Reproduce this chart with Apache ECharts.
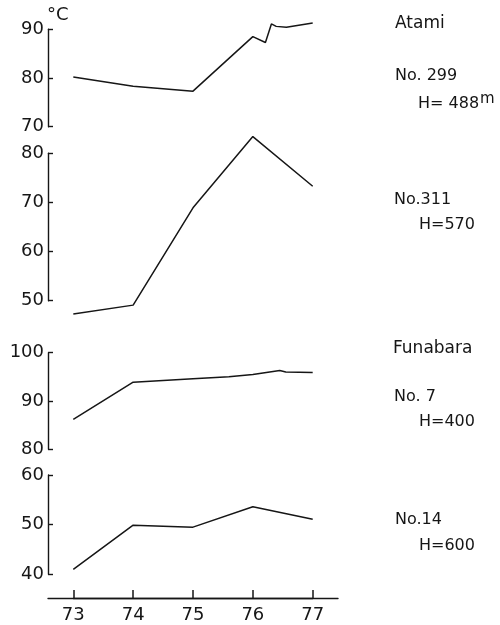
<!DOCTYPE html>
<html>
<head>
<meta charset="utf-8">
<script src="https://cdn.jsdelivr.net/npm/echarts@6/dist/echarts.min.js"></script>
<style>
  html, body { margin: 0; padding: 0; background: #fff; }
  #chart { width: 500px; height: 625px; }
</style>
</head>
<body>
<div id="chart"></div>
<script>
// Year range with ticks (73 ... 77)
const firstYear = 73;
const lastYear = 77;

// Atami No. 299 (H = 488 m)
const no299Years = [73, 74, 75, 76, 76.21, 76.31, 76.39, 76.56, 77];
const no299Temp = [80.2, 78.3, 77.3, 88.5, 87.3, 91.1, 90.6, 90.4, 91.3];

// Atami No. 311 (H = 570 m)
const no311Years = [73, 74, 75, 76, 77];
const no311Temp = [47.3, 49.1, 68.9, 83.4, 73.3];

// Funabara No. 7 (H = 400 m)
const no7Years = [73, 74, 75, 75.6, 76, 76.45, 76.55, 77];
const no7Temp = [86.2, 93.9, 94.6, 95.0, 95.5, 96.3, 96.0, 95.9];

// Funabara No. 14 (H = 600 m)
const no14Years = [73, 74, 75, 76, 77];
const no14Temp = [41.0, 49.9, 49.5, 53.6, 51.1];

// y ranges of the panels, top to bottom
const yRanges = [[70, 90], [50, 80], [80, 100], [40, 60]];

const ink = '#161616';
const font = 'DejaVu Sans';

const pairs = (xs, ys) => xs.map((x, i) => [x, ys[i]]);

// The plotting area runs a little past the first and last year
const pxPerYear = 59.85;
const axisLeft = 48, axisWidth = 290;
const yearLeft = 73.3;
const xMin = firstYear - (yearLeft - axisLeft) / pxPerYear;
const xMax = xMin + axisWidth / pxPerYear;
const yearAxisY = 598;

const panelBoxes = [
  { top: 29.3, height: 97.4 },
  { top: 153.3, height: 147.4 },
  { top: 352.7, height: 96.6 },
  { top: 475, height: 99.3 }
];

const grids = panelBoxes.map(b => ({ left: axisLeft, width: axisWidth, top: b.top, height: b.height }));
// Thin strip grids for the shared year axis: the full-length base line, and the 73-77 ticks
grids.push({ left: axisLeft, width: axisWidth, top: yearAxisY - 16, height: 16 });
grids.push({ left: yearLeft, width: (lastYear - firstYear) * pxPerYear, top: yearAxisY - 16, height: 16 });

const xAxes = panelBoxes.map((b, i) => ({
  type: 'value', gridIndex: i, min: xMin, max: xMax, show: false
}));
xAxes.push({
  type: 'value',
  gridIndex: 4,
  min: xMin,
  max: xMax,
  splitLine: { show: false },
  axisLine: { show: true, onZero: false, lineStyle: { color: ink, width: 1.4 } },
  axisTick: { show: false },
  axisLabel: { show: false }
});
xAxes.push({
  type: 'value',
  gridIndex: 5,
  min: firstYear,
  max: lastYear,
  interval: 1,
  splitLine: { show: false },
  axisLine: { show: true, onZero: false, lineStyle: { color: ink, width: 1.4 } },
  axisTick: { show: true, inside: true, length: 8, lineStyle: { color: ink, width: 1.5 } },
  axisLabel: { show: true, margin: 8, color: ink, fontSize: 18, fontFamily: font }
});

const yAxes = yRanges.map((r, i) => ({
  type: 'value',
  gridIndex: i,
  min: r[0],
  max: r[1],
  interval: 10,
  splitLine: { show: false },
  axisLine: { show: true, lineStyle: { color: ink, width: 1.4 } },
  axisTick: { show: true, inside: true, length: 5, lineStyle: { color: ink, width: 1.4 } },
  axisLabel: { margin: 4, color: ink, fontSize: 18, fontFamily: font }
}));
yAxes.push({ type: 'value', gridIndex: 4, min: 0, max: 1, show: false });
yAxes.push({ type: 'value', gridIndex: 5, min: 0, max: 1, show: false });

const lineSeries = (data, i) => ({
  type: 'line',
  xAxisIndex: i,
  yAxisIndex: i,
  data: data,
  symbol: 'none',
  clip: false,
  smooth: false,
  lineStyle: { color: ink, width: 1.5 }
});

// Station captions on the right
const captions = [
  { x: 395, y: 25, text: 'Atami', size: 17 },
  { x: 395, y: 78, text: 'No. 299', size: 16 },
  { x: 418, y: 102, text: '{n|H= 488}{s|m}', size: 16 },
  { x: 394, y: 202, text: 'No.311', size: 16 },
  { x: 419, y: 227, text: 'H=570', size: 16 },
  { x: 393, y: 350, text: 'Funabara', size: 17 },
  { x: 394, y: 399, text: 'No. 7', size: 16 },
  { x: 419, y: 424, text: 'H=400', size: 16 },
  { x: 395, y: 522, text: 'No.14', size: 16 },
  { x: 419, y: 548, text: 'H=600', size: 16 }
];

const graphics = captions.map(c => ({
  type: 'text',
  left: c.x,
  top: c.y - 10,
  style: {
    text: c.text,
    fill: ink,
    font: c.size + 'px "' + font + '"',
    rich: {
      n: { fontSize: 16, fontFamily: font, color: ink, verticalAlign: 'bottom', lineHeight: 20 },
      s: { fontSize: 15, fontFamily: font, color: ink, verticalAlign: 'top', padding: [0, 0, 10, 1], lineHeight: 20 }
    }
  }
}));
// Unit of the temperature axes
graphics.push({
  type: 'text',
  x: 47,
  y: 15.5,
  style: { text: '°C', fill: ink, font: '18px "' + font + '"', align: 'left', verticalAlign: 'middle' }
});

const chart = echarts.init(document.getElementById('chart'), null, { renderer: 'canvas' });
chart.setOption({
  backgroundColor: '#fff',
  animation: false,
  grid: grids,
  xAxis: xAxes,
  yAxis: yAxes,
  series: [
    lineSeries(pairs(no299Years, no299Temp), 0),
    lineSeries(pairs(no311Years, no311Temp), 1),
    lineSeries(pairs(no7Years, no7Temp), 2),
    lineSeries(pairs(no14Years, no14Temp), 3)
  ],
  graphic: graphics
});
</script>
</body>
</html>
